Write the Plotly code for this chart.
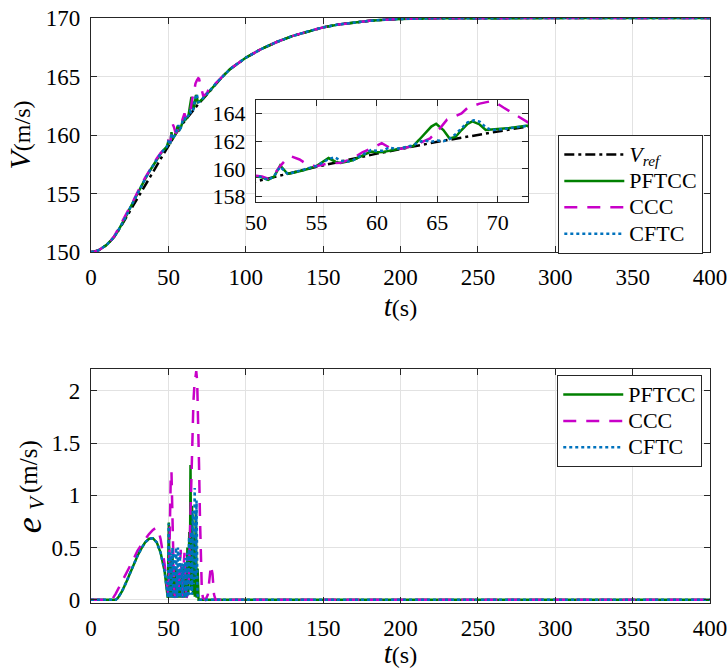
import plotly.graph_objects as go

# ---------------- data: speed V (m/s) ----------------
t_ref = [0, 2.5, 5, 7.5, 10, 12.5, 15, 17.5, 20, 22.5, 25, 27.5, 30, 32.5, 35, 37.5, 40, 42.5, 45, 47.5,
         49, 50, 55, 60, 65, 70, 72.5, 75, 80, 85, 90, 100, 110, 120, 130, 140, 150, 160, 170, 180, 190,
         200, 220, 250, 300, 350, 400]
v_ref = [150, 150.04, 150.15, 150.35, 150.6, 150.92, 151.3, 151.78, 152.3, 152.86, 153.45, 154.02, 154.6,
         155.15, 155.7, 156.25, 156.8, 157.38, 157.95, 158.52, 158.87, 159.1, 160.15, 161.1, 161.95, 162.75,
         163.1, 163.5, 164.3, 165.0, 165.65, 166.6, 167.35, 167.95, 168.45, 168.85, 169.2, 169.45, 169.62,
         169.76, 169.86, 169.92, 169.97, 170, 170, 170, 170]

t_pftcc = [0, 2.5, 5, 7.5, 10, 12.5, 15, 17.5, 20, 22.5, 25, 27.5, 30, 32.5, 35, 37.5, 40, 42.5, 45, 47.5,
           49, 50, 50.5, 51, 51.5, 52, 52.6, 53, 54, 55, 55.5, 56, 56.6, 57, 58, 59, 59.5, 60, 60.5, 61, 62,
           63, 63.5, 64, 64.5, 64.9, 65.5, 66, 66.5, 67, 67.5, 67.9, 68.5, 69, 70, 71, 72.5, 75, 80, 85, 90,
           100, 110, 120, 130, 140, 150, 160, 170, 180, 190, 200, 220, 250, 300, 350, 400]
v_pftcc = [150, 150.04, 150.15, 150.35, 150.6, 150.92, 151.3, 151.8, 152.38, 153.02, 153.7, 154.36, 155.02,
           155.64, 156.25, 156.84, 157.39, 157.93, 158.4, 158.8, 159.0, 159.45, 159.4, 159.22, 159.45, 160.25,
           159.65, 159.7, 159.92, 160.2, 160.5, 160.78, 160.5, 160.42, 160.62, 161.05, 161.25, 161.2, 161.22,
           161.3, 161.45, 161.65, 162.1, 162.6, 163.05, 163.25, 162.8, 162.2, 162.3, 162.8, 163.25, 163.42,
           163.2, 162.8, 162.85, 162.95, 163.12, 163.52, 164.3, 165.0, 165.65, 166.6, 167.35, 167.95, 168.45,
           168.85, 169.2, 169.45, 169.62, 169.76, 169.86, 169.92, 169.97, 170, 170, 170, 170]

t_ccc = [0, 2.5, 5, 7.5, 10, 12.5, 14, 15, 17.5, 20, 22.5, 25, 27.5, 30, 32.5, 35, 37.5, 40, 42.5, 45, 47.5,
         49, 50, 50.5, 51, 51.5, 52, 52.5, 52.9, 53.6, 54, 54.5, 55, 56, 57, 58, 58.8, 59.5, 60.4, 61, 62, 63,
         63.5, 64.4, 65.2, 65.8, 66.5, 67, 67.5, 68.5, 69.3, 69.8, 70.5, 71.5, 72.5, 73.5, 75, 77, 78.5, 80,
         85, 90, 100, 110, 120, 130, 140, 150, 160, 170, 180, 190, 200, 220, 250, 300, 350, 400]
v_ccc = [150, 150.04, 150.15, 150.35, 150.6, 150.92, 151.15, 151.35, 151.95, 152.55, 153.1, 153.75, 154.42,
         155.1, 155.75, 156.35, 156.9, 157.47, 158.0, 158.45, 158.8, 159.0, 159.5, 159.45, 159.3, 159.6, 160.2,
         160.7, 160.9, 160.68, 160.45, 160.25, 160.2, 160.4, 160.45, 160.75, 161.2, 161.45, 161.85, 161.55,
         161.45, 161.65, 161.85, 162.2, 162.9, 163.55, 163.8, 164.0, 164.4, 164.7, 164.85, 164.8, 164.4,
         163.9, 163.35, 163.4, 163.6, 164.2, 164.4, 164.35, 165.0, 165.65, 166.6, 167.35, 167.95, 168.45,
         168.85, 169.2, 169.45, 169.62, 169.76, 169.86, 169.92, 169.97, 170, 170, 170, 170]

t_cftc = [0, 2.5, 5, 7.5, 10, 12.5, 15, 17.5, 20, 22.5, 25, 27.5, 30, 32.5, 35, 37.5, 40, 42.5, 45, 47.5,
          49, 50, 50.5, 51, 51.5, 52, 52.6, 53, 54, 55, 55.5, 56, 56.5, 57, 57.5, 58, 59, 59.5, 60, 60.5, 61,
          61.5, 62, 63, 63.5, 64, 64.5, 65, 65.5, 66, 66.5, 67, 67.5, 68, 68.5, 69, 69.5, 70, 71, 72.5, 75, 80,
          85, 90, 100, 110, 120, 130, 140, 150, 160, 170, 180, 190, 200, 220, 250, 300, 350, 400]
v_cftc = [150, 150.04, 150.15, 150.35, 150.6, 150.92, 151.3, 151.8, 152.38, 153.02, 153.7, 154.36, 155.02,
          155.64, 156.25, 156.84, 157.39, 157.93, 158.4, 158.8, 159.0, 159.5, 159.4, 159.2, 159.5, 160.15,
          159.65, 159.72, 159.95, 160.22, 160.45, 160.7, 160.85, 160.6, 160.5, 160.62, 161.1, 161.35, 161.3,
          161.3, 161.55, 161.45, 161.5, 161.7, 161.95, 162.05, 161.95, 162.05, 162.0, 162.15, 162.5, 162.95,
          163.35, 163.5, 163.4, 163.0, 162.8, 162.82, 162.95, 163.12, 163.52, 164.3, 165.0, 165.65, 166.6,
          167.35, 167.95, 168.45, 168.85, 169.2, 169.45, 169.62, 169.76, 169.86, 169.92, 169.97, 170, 170,
          170, 170]

# ---------------- data: speed error e_V (m/s) ----------------
te_pftcc = [0, 16, 17.5, 20, 22.5, 25, 27.5, 30, 32.5, 35, 37.5, 40, 42.5, 45, 47.5, 49,
            49.6, 50.3, 50.9, 51.5, 52.1, 52.7, 53.3, 53.9, 54.5, 55.1, 55.7, 56.3, 56.9, 57.5, 58.1, 58.7,
            59.3, 59.9, 60.5, 61.1, 61.7, 62.3, 62.9, 63.5, 63.9, 64.3, 64.8, 65.3, 65.9, 66.5, 67.1, 67.7,
            68.3, 68.9, 69.5, 70, 400]
e_pftcc = [0, 0, 0.02, 0.08, 0.16, 0.25, 0.34, 0.42, 0.49, 0.55, 0.585, 0.59, 0.55, 0.45, 0.28, 0.12,
           0.02, 0.74, 0.02, 0.4, 0.02, 0.42, 0.02, 0.3, 0.02, 0.3, 0.02, 0.25, 0.02, 0.2, 0.02, 0.25,
           0.02, 0.3, 0.02, 0.35, 0.02, 0.5, 0.05, 0.65, 0.2, 1.29, 0.1, 0.9, 0.05, 0.6, 0.03, 0.85,
           0.02, 0.3, 0, 0, 0]

te_ccc = [0, 13.5, 16, 18.5, 20, 22.5, 25, 27.5, 30, 32.5, 35, 37.5, 40, 42, 43.5, 45, 47.5, 49, 50, 50.5, 51,
          51.5, 52, 52.5, 53, 53.5, 54, 54.8, 55.5, 56.2, 56.8, 57.4, 58, 58.6, 59.2, 59.8, 60.4, 61, 61.6,
          62.5, 63.2, 63.8, 64.4, 65, 65.6, 66.2, 66.8, 67.4, 68, 68.6, 69.2, 69.8, 70.4, 71, 71.6, 72.3, 74,
          75.5, 76.5, 77.5, 78.5, 79.5, 80.5, 400]
e_ccc = [0, 0, 0.06, 0.13, 0.17, 0.25, 0.32, 0.39, 0.47, 0.53, 0.58, 0.63, 0.67, 0.69, 0.67, 0.58, 0.35, 0.15,
         0.05, 0.3, 0.8, 1.15, 1.23, 1.0, 0.55, 0.2, 0.05, 0.02, 0.15, 0.3, 0.1, 0.35, 0.48, 0.2, 0.02, 0.3,
         0.45, 0.15, 0.02, 0.05, 0.2, 0.55, 0.95, 1.3, 1.65, 1.9, 2.05, 2.15, 2.19, 2.1, 1.8, 1.3, 0.8, 0.35,
         0.1, 0.02, 0.0, 0.05, 0.2, 0.33, 0.25, 0.05, 0, 0]

te_cftc = [0, 16, 17.5, 20, 22.5, 25, 27.5, 30, 32.5, 35, 37.5, 40, 42.5, 45, 47.5, 49,
           49.7, 50.2, 50.8, 51.4, 52.0, 52.6, 53.2, 53.8, 54.4, 55.0, 55.6, 56.2, 56.8, 57.4, 58.0, 58.6,
           59.2, 59.8, 60.4, 61.0, 61.6, 62.2, 62.8, 63.4, 64.0, 64.6, 65.2, 65.8, 66.4, 67.0, 67.6, 68.2,
           68.8, 69.4, 70, 400]
e_cftc = [0, 0, 0.02, 0.08, 0.16, 0.25, 0.34, 0.42, 0.49, 0.55, 0.585, 0.59, 0.55, 0.45, 0.28, 0.12,
          0.02, 0.73, 0.02, 0.45, 0.02, 0.5, 0.02, 0.45, 0.02, 0.5, 0.02, 0.5, 0.02, 0.45, 0.02, 0.35,
          0.02, 0.35, 0.02, 0.4, 0.02, 0.45, 0.03, 0.6, 0.05, 0.65, 0.05, 0.85, 0.15, 1.07, 0.2, 0.95,
          0.05, 0.02, 0, 0]

# ---------------- labels ----------------
LS = "<span style='font-size:22px'>%s</span>"
name_ref = LS % "<i>V</i><sub><i>ref</i></sub>"
name_pftcc = LS % "PFTCC"
name_ccc = LS % "CCC"
name_cftc = LS % "CFTC"
xlabel = "<i><span style='font-size:29px'>t</span></i>(s)"
ylabel_top = "<i><span style='font-size:30px'>V</span></i>(m/s)"
# bottom y label "e_V(m/s)" is written in three rotated pieces
ylab_bot_e = "<i>e</i>"
ylab_bot_v = "<i>V</i>"
ylab_bot_unit = "(m/s)"

x_ticks = [0, 50, 100, 150, 200, 250, 300, 350, 400]
v_ticks = [150, 155, 160, 165, 170]
e_ticks = [0, 0.5, 1, 1.5, 2]
e_ticktext = ["0", "0.5", "1", "1.5", "2"]
ins_x_ticks = [50, 55, 60, 65, 70]
ins_y_ticks = [158, 160, 162, 164]

# ---------------- styling ----------------
FONT = "Liberation Serif, Times New Roman, DejaVu Serif, serif"
W = 2.5
S_REF = dict(color="#000000", width=W, dash="10px,4px,3px,4px")
S_PF = dict(color="#008000", width=W)
S_CCC = dict(color="#C800C8", width=W, dash="13px,10px")
S_CFTC = dict(color="#0072BD", width=W, dash="3px,3px")

fig = go.Figure()

# top panel
fig.add_trace(go.Scatter(x=t_ref, y=v_ref, mode="lines", name=name_ref, line=S_REF,
                         xaxis="x", yaxis="y", legend="legend"))
fig.add_trace(go.Scatter(x=t_pftcc, y=v_pftcc, mode="lines", name=name_pftcc, line=S_PF,
                         xaxis="x", yaxis="y", legend="legend"))
fig.add_trace(go.Scatter(x=t_ccc, y=v_ccc, mode="lines", name=name_ccc, line=S_CCC,
                         xaxis="x", yaxis="y", legend="legend"))
fig.add_trace(go.Scatter(x=t_cftc, y=v_cftc, mode="lines", name=name_cftc, line=S_CFTC,
                         xaxis="x", yaxis="y", legend="legend"))

# inset
for tx, vy, st in [(t_ref, v_ref, S_REF), (t_pftcc, v_pftcc, S_PF), (t_ccc, v_ccc, S_CCC), (t_cftc, v_cftc, S_CFTC)]:
    fig.add_trace(go.Scatter(x=tx, y=vy, mode="lines", line=st, showlegend=False,
                             xaxis="x3", yaxis="y3"))

# bottom panel
fig.add_trace(go.Scatter(x=te_pftcc, y=e_pftcc, mode="lines", name=name_pftcc, line=S_PF,
                         xaxis="x2", yaxis="y2", legend="legend2"))
fig.add_trace(go.Scatter(x=te_ccc, y=e_ccc, mode="lines", name=name_ccc, line=S_CCC,
                         xaxis="x2", yaxis="y2", legend="legend2"))
fig.add_trace(go.Scatter(x=te_cftc, y=e_cftc, mode="lines", name=name_cftc, line=S_CFTC,
                         xaxis="x2", yaxis="y2", legend="legend2"))

AX = dict(showline=True, linecolor="#262626", linewidth=1.3, mirror="ticks", ticks="inside",
          ticklen=6, tickwidth=1.3, tickcolor="#262626", showgrid=True, gridcolor="#E2E2E2",
          gridwidth=1, zeroline=False, automargin=False, ticklabeloverflow="allow",
          tickfont=dict(family=FONT, size=23, color="#000000"))
TF = dict(family=FONT, size=24, color="#000000")
LF = dict(family=FONT, size=18, color="#000000")

fig.update_layout(
    width=727, height=669,
    margin=dict(l=91, r=17, t=18, b=66),
    paper_bgcolor="white", plot_bgcolor="white",
    font=dict(family=FONT, size=21, color="#000000"),
    xaxis=dict(AX, domain=[0, 1], anchor="y", range=[0, 400], tickvals=x_ticks, ticklabelstandoff=4,
               title=dict(text=xlabel, font=TF, standoff=0)),
    yaxis=dict(AX, domain=[0.6, 1], anchor="x", range=[150, 170], tickvals=v_ticks, ticklabelstandoff=5,
               title=dict(text=ylabel_top, font=TF, standoff=8)),
    xaxis2=dict(AX, domain=[0, 1], anchor="y2", range=[0, 400], tickvals=x_ticks, ticklabelstandoff=4,
                title=dict(text=xlabel, font=TF, standoff=6)),
    yaxis2=dict(AX, domain=[0, 0.4], anchor="x2", range=[-0.03, 2.21], tickvals=e_ticks,
                ticktext=e_ticktext, ticklabelstandoff=5),
    xaxis3=dict(AX, domain=[0.2666, 0.706], anchor="y3", range=[50, 72.5], tickvals=ins_x_ticks,
                ticklabelstandoff=1, tickfont=dict(family=FONT, size=22, color="#000000")),
    yaxis3=dict(AX, domain=[0.686, 0.8598], anchor="x3", range=[157.64, 164.96], tickvals=ins_y_ticks,
                ticklabelstandoff=5, tickfont=dict(family=FONT, size=22, color="#000000")),
    legend=dict(x=0.9887, y=0.8, xanchor="right", yanchor="top", bgcolor="white",
                bordercolor="#262626", borderwidth=1.3, font=LF, tracegroupgap=0, itemwidth=60),
    legend2=dict(x=0.987, y=0.3897, xanchor="right", yanchor="top", bgcolor="white",
                 bordercolor="#262626", borderwidth=1.3, font=LF, tracegroupgap=0, itemwidth=60),
    showlegend=True,
)

# bottom y-axis label: e (large italic), subscript V, then (m/s), all rotated
fig.add_annotation(text=ylab_bot_e, xref="paper", yref="paper", x=-0.1002, y=0.133,
                   xanchor="center", yanchor="middle", textangle=-90, showarrow=False,
                   font=dict(family=FONT, size=36, color="#000000"))
fig.add_annotation(text=ylab_bot_v, xref="paper", yref="paper", x=-0.0872, y=0.1709,
                   xanchor="center", yanchor="middle", textangle=-90, showarrow=False,
                   font=dict(family=FONT, size=21, color="#000000"))
fig.add_annotation(text=ylab_bot_unit, xref="paper", yref="paper", x=-0.1002, y=0.2342,
                   xanchor="center", yanchor="middle", textangle=-90, showarrow=False,
                   font=dict(family=FONT, size=25, color="#000000"))

# white backdrop for the inset so the main grid does not show through
fig.add_shape(type="rect", xref="x3", yref="y3", x0=50, x1=72.5, y0=157.64, y1=164.96,
              fillcolor="white", line=dict(width=0), layer="below")

fig.write_html("out.html")
